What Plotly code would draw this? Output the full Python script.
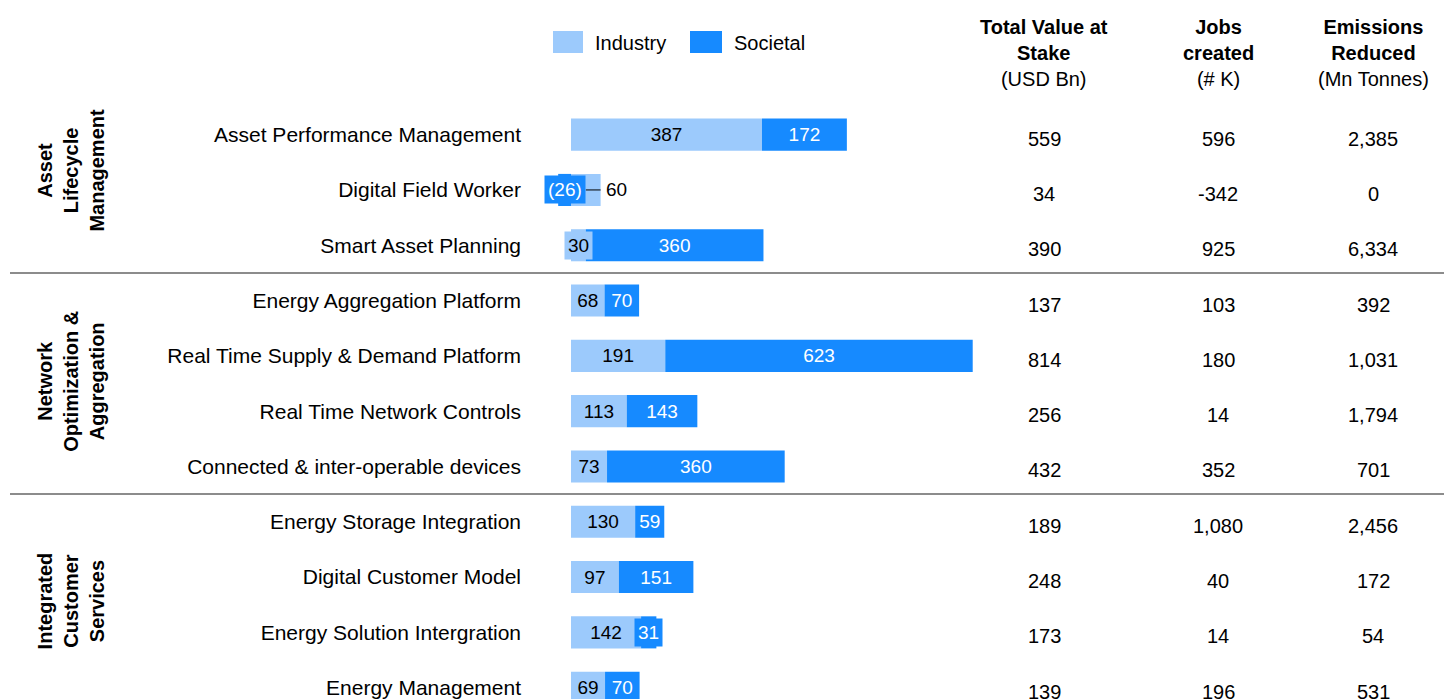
import plotly.graph_objects as go

categories = [
    "Asset Performance Management",
    "Digital Field Worker",
    "Smart Asset Planning",
    "Energy Aggregation Platform",
    "Real Time Supply & Demand Platform",
    "Real Time Network Controls",
    "Connected & inter-operable devices",
    "Energy Storage Integration",
    "Digital Customer Model",
    "Energy Solution Intergration",
    "Energy Management",
]
industry = [387, 60, 30, 68, 191, 113, 73, 130, 97, 142, 69]
societal = [172, -26, 360, 70, 623, 143, 360, 59, 151, 31, 70]
total_value = ["559", "34", "390", "137", "814", "256", "432", "189", "248", "173", "139"]
jobs_created = ["596", "-342", "925", "103", "180", "14", "352", "1,080", "40", "14", "196"]
emissions = ["2,385", "0", "6,334", "392", "1,031", "1,794", "701", "2,456", "172", "54", "531"]
groups = ["Asset<br>Lifecycle<br>Management",
          "Network<br>Optimization &<br>Aggregation",
          "Integrated<br>Customer<br>Services"]
group_label_pos = [0.65, 4.47, 8.44]
group_breaks = [2.5, 6.5]
headers = ["<b>Total Value at</b><br><b>Stake</b><br>(USD Bn)",
           "<b>Jobs</b><br><b>created</b><br>(# K)",
           "<b>Emissions</b><br><b>Reduced</b><br>(Mn Tonnes)"]

LIGHT = "#9ccafc"
DARK = "#168aff"
FONT = "Liberation Sans, Arial, sans-serif"
W, H = 1444, 699
TOP = 107
SCALE = 0.4935   # px per unit
ZERO_PX = 571
MIN_FIT_PX = 24  # segments narrower than this get a boxed label

def fmt(v):
    return f"({abs(v)})" if v < 0 else str(v)

def px(x):
    return x / W

def py(p):
    return (H - p) / (H - TOP)

def fits(v):
    return abs(v) * SCALE >= MIN_FIT_PX

ind_text = [fmt(v) if (fits(v) and v != 60) else "" for v in industry]
soc_text = [fmt(v) if fits(v) else "" for v in societal]

fig = go.Figure()
fig.add_trace(go.Bar(
    y=categories, x=industry, orientation="h", name="Industry",
    marker=dict(color=LIGHT, line=dict(width=0)), width=0.58,
    text=ind_text, textposition="inside", insidetextanchor="middle",
    textangle=0, constraintext="none",
    textfont=dict(family=FONT, size=19, color="black"),
    hoverinfo="skip",
))
fig.add_trace(go.Bar(
    y=categories, x=societal, orientation="h", name="Societal",
    marker=dict(color=DARK, line=dict(width=0)), width=0.58,
    text=soc_text, textposition="inside", insidetextanchor="middle",
    textangle=0, constraintext="none",
    textfont=dict(family=FONT, size=19, color="white"),
    hoverinfo="skip",
))

ann = []
shapes = []
for i, (a, b) in enumerate(zip(industry, societal)):
    # boxed labels for narrow segments
    if not fits(a) and a != 60:
        ann.append(dict(x=a / 2, y=i, xref="x", yref="y", text=fmt(a),
                        xanchor="center", yanchor="middle",
                        showarrow=False, bgcolor=LIGHT, borderpad=3,
                        font=dict(family=FONT, size=19, color="black")))
    if not fits(b):
        base = 0 if b < 0 else a
        ann.append(dict(x=base + b / 2, y=i, xref="x", yref="y", text=fmt(b),
                        xanchor="center", yanchor="middle",
                        showarrow=False, bgcolor=DARK, borderpad=3,
                        font=dict(family=FONT, size=19, color="white")))
    if a == 60:
        # outside label with leader line
        ann.append(dict(x=a, y=i, xref="x", yref="y", text=str(a),
                        xanchor="left", yanchor="middle", xshift=3, showarrow=False,
                        font=dict(family=FONT, size=19, color="black")))
        shapes.append(dict(type="line", xref="x", yref="y", x0=a / 2, x1=a,
                           y0=i, y1=i, line=dict(color="black", width=1)))

# table values
cols = [(1044, total_value), (1218, jobs_created), (1373, emissions)]
for xc, vals in cols:
    for i, v in enumerate(vals):
        ann.append(dict(x=px(xc), y=i, xref="paper", yref="y", text=v,
                        xanchor="center", yanchor="middle",
                        showarrow=False, yshift=-4,
                        font=dict(family=FONT, size=20, color="black")))
for (xc, _), h in zip(cols, headers):
    ann.append(dict(x=px(xc), y=py(53), xref="paper", yref="paper", text=h,
                    xanchor="center", yanchor="middle",
                    showarrow=False, align="center",
                    font=dict(family=FONT, size=20, color="black")))

# group labels
for g, yp in zip(groups, group_label_pos):
    ann.append(dict(x=px(71), y=yp, xref="paper", yref="y", text="<b>" + g + "</b>",
                    xanchor="center", yanchor="middle",
                    textangle=-90, showarrow=False, align="center",
                    font=dict(family=FONT, size=20, color="black")))

# legend (custom)
for name, col, x0, x1, tx in [("Industry", LIGHT, 553, 583, 593), ("Societal", DARK, 690, 722, 732)]:
    shapes.append(dict(type="rect", xref="paper", yref="paper",
                       x0=px(x0), x1=px(x1), y0=py(53), y1=py(31),
                       fillcolor=col, line=dict(width=0)))
    ann.append(dict(x=px(tx), y=py(43), xref="paper", yref="paper", text=name,
                    xanchor="left", yanchor="middle", showarrow=False,
                    font=dict(family=FONT, size=20, color="black")))

for yb in group_breaks:
    shapes.append(dict(type="line", xref="paper", yref="y", x0=px(10), x1=1,
                       y0=yb, y1=yb, line=dict(color="#8c8c8c", width=2)))

fig.update_layout(
    width=W, height=H,
    margin=dict(l=0, r=0, t=TOP, b=0, pad=0),
    barmode="relative",
    showlegend=False,
    plot_bgcolor="white", paper_bgcolor="white",
    font=dict(family=FONT, size=19, color="black"),
    xaxis=dict(range=[-ZERO_PX / SCALE, (W - ZERO_PX) / SCALE], domain=[0, 1],
               showgrid=False, zeroline=False, showticklabels=False, showline=False),
    yaxis=dict(type="category", categoryorder="array", categoryarray=categories,
               range=[10.205, -0.5], anchor="free", position=px(521),
               showgrid=False, zeroline=False, showline=False, ticks="",
               tickfont=dict(family=FONT, size=21, color="black")),
    annotations=ann,
    shapes=shapes,
)

fig.write_html("out.html", config={"displayModeBar": False},
               post_script="document.body.style.margin='0';")
